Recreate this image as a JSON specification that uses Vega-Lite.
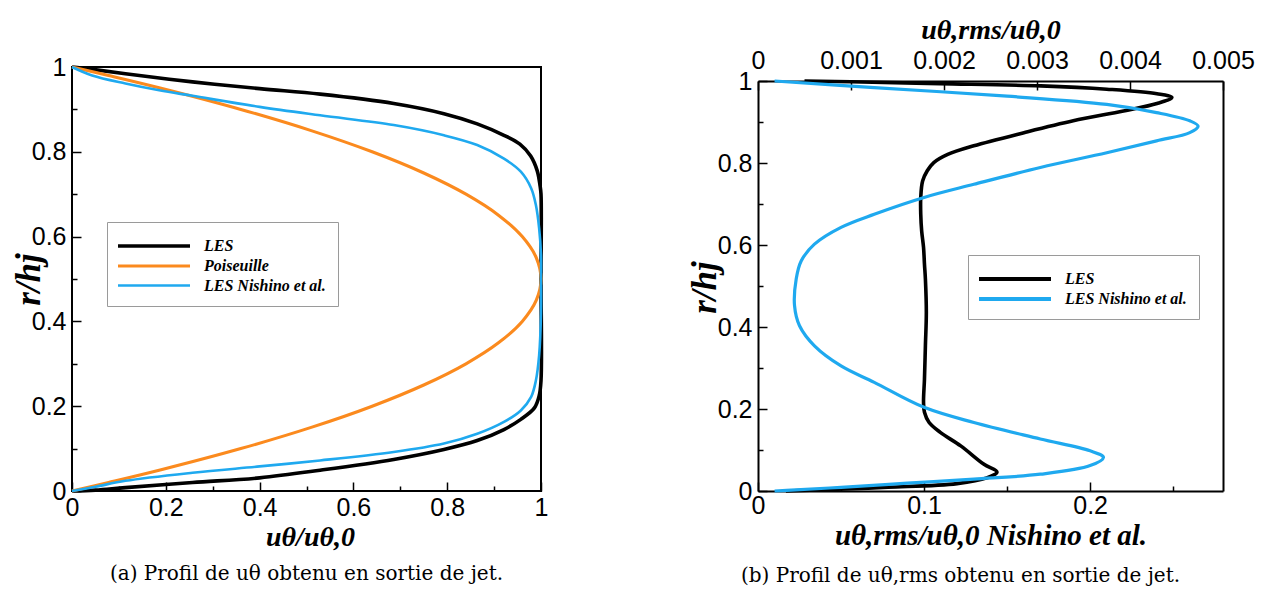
{
  "$schema": "https://vega.github.io/schema/vega-lite/v6.json",
  "background": "white",
  "padding": {"left": 10, "top": 16, "right": 5, "bottom": 2},
  "spacing": 137,
  "config": {
    "view": {"stroke": null},
    "axis": {"labelFont": "Liberation Sans", "labelFontSize": 25, "labelColor": "black", "tickColor": "black", "domainColor": "black", "grid": false, "labelFlush": false, "labelOverlap": false, "titleFont": "Liberation Serif", "titleFontStyle": "italic", "titleFontWeight": "bold", "titleColor": "black", "titleFontSize": 28, "tickWidth": 1.5, "domainWidth": 2},
    "legend": {"orient": "none", "title": null, "strokeColor": "#9a9a9a", "padding": 12, "fillColor": "white", "symbolType": "M-3.6,0H3.6", "symbolSize": 400, "symbolStrokeWidth": 4, "symbolOffset": 23, "labelOffset": 38, "labelFont": "Liberation Serif", "labelFontStyle": "italic", "labelFontWeight": "bold", "labelFontSize": 16, "labelColor": "black", "rowPadding": 0},
    "title": {"font": "DejaVu Serif", "fontSize": 20, "fontWeight": "normal", "color": "black"}
  },
  "datasets": {
    "left": [
      {"series": "LES", "u": 0, "r": 0}, {"series": "LES", "u": 0.05, "r": 0.002}, {"series": "LES", "u": 0.114, "r": 0.008}, {"series": "LES", "u": 0.257, "r": 0.02}, {"series": "LES", "u": 0.4, "r": 0.031}, {"series": "LES", "u": 0.529, "r": 0.049}, {"series": "LES", "u": 0.686, "r": 0.0745}, {"series": "LES", "u": 0.793, "r": 0.098}, {"series": "LES", "u": 0.864, "r": 0.119}, {"series": "LES", "u": 0.921, "r": 0.145}, {"series": "LES", "u": 0.957, "r": 0.169}, {"series": "LES", "u": 0.986, "r": 0.196}, {"series": "LES", "u": 0.996, "r": 0.224}, {"series": "LES", "u": 1.0, "r": 0.26}, {"series": "LES", "u": 1.0, "r": 0.5}, {"series": "LES", "u": 1.0, "r": 0.7}, {"series": "LES", "u": 0.998, "r": 0.72}, {"series": "LES", "u": 0.992, "r": 0.755}, {"series": "LES", "u": 0.978, "r": 0.79}, {"series": "LES", "u": 0.955, "r": 0.818}, {"series": "LES", "u": 0.921, "r": 0.839}, {"series": "LES", "u": 0.864, "r": 0.866}, {"series": "LES", "u": 0.793, "r": 0.89}, {"series": "LES", "u": 0.686, "r": 0.914}, {"series": "LES", "u": 0.529, "r": 0.936}, {"series": "LES", "u": 0.4, "r": 0.949}, {"series": "LES", "u": 0.257, "r": 0.965}, {"series": "LES", "u": 0.114, "r": 0.984}, {"series": "LES", "u": 0.04, "r": 0.995}, {"series": "LES", "u": 0, "r": 1},
      {"series": "Poiseuille", "u": 0, "r": 0}, {"series": "Poiseuille", "u": 0.078, "r": 0.02}, {"series": "Poiseuille", "u": 0.19, "r": 0.05}, {"series": "Poiseuille", "u": 0.36, "r": 0.1}, {"series": "Poiseuille", "u": 0.51, "r": 0.15}, {"series": "Poiseuille", "u": 0.64, "r": 0.2}, {"series": "Poiseuille", "u": 0.75, "r": 0.25}, {"series": "Poiseuille", "u": 0.84, "r": 0.3}, {"series": "Poiseuille", "u": 0.91, "r": 0.35}, {"series": "Poiseuille", "u": 0.96, "r": 0.4}, {"series": "Poiseuille", "u": 0.99, "r": 0.45}, {"series": "Poiseuille", "u": 1.0, "r": 0.5}, {"series": "Poiseuille", "u": 0.99, "r": 0.55}, {"series": "Poiseuille", "u": 0.96, "r": 0.6}, {"series": "Poiseuille", "u": 0.91, "r": 0.65}, {"series": "Poiseuille", "u": 0.84, "r": 0.7}, {"series": "Poiseuille", "u": 0.75, "r": 0.75}, {"series": "Poiseuille", "u": 0.64, "r": 0.8}, {"series": "Poiseuille", "u": 0.51, "r": 0.85}, {"series": "Poiseuille", "u": 0.36, "r": 0.9}, {"series": "Poiseuille", "u": 0.19, "r": 0.95}, {"series": "Poiseuille", "u": 0.078, "r": 0.98}, {"series": "Poiseuille", "u": 0, "r": 1},
      {"series": "LES Nishino et al.", "u": 0, "r": 0}, {"series": "LES Nishino et al.", "u": 0.05, "r": 0.01}, {"series": "LES Nishino et al.", "u": 0.114, "r": 0.024}, {"series": "LES Nishino et al.", "u": 0.257, "r": 0.043}, {"series": "LES Nishino et al.", "u": 0.4, "r": 0.058}, {"series": "LES Nishino et al.", "u": 0.529, "r": 0.072}, {"series": "LES Nishino et al.", "u": 0.686, "r": 0.092}, {"series": "LES Nishino et al.", "u": 0.793, "r": 0.112}, {"series": "LES Nishino et al.", "u": 0.864, "r": 0.135}, {"series": "LES Nishino et al.", "u": 0.921, "r": 0.163}, {"series": "LES Nishino et al.", "u": 0.957, "r": 0.19}, {"series": "LES Nishino et al.", "u": 0.979, "r": 0.222}, {"series": "LES Nishino et al.", "u": 0.989, "r": 0.26}, {"series": "LES Nishino et al.", "u": 0.996, "r": 0.32}, {"series": "LES Nishino et al.", "u": 1.0, "r": 0.42}, {"series": "LES Nishino et al.", "u": 1.0, "r": 0.5}, {"series": "LES Nishino et al.", "u": 1.0, "r": 0.557}, {"series": "LES Nishino et al.", "u": 0.996, "r": 0.62}, {"series": "LES Nishino et al.", "u": 0.989, "r": 0.675}, {"series": "LES Nishino et al.", "u": 0.979, "r": 0.714}, {"series": "LES Nishino et al.", "u": 0.957, "r": 0.753}, {"series": "LES Nishino et al.", "u": 0.921, "r": 0.784}, {"series": "LES Nishino et al.", "u": 0.864, "r": 0.816}, {"series": "LES Nishino et al.", "u": 0.793, "r": 0.839}, {"series": "LES Nishino et al.", "u": 0.686, "r": 0.863}, {"series": "LES Nishino et al.", "u": 0.529, "r": 0.886}, {"series": "LES Nishino et al.", "u": 0.4, "r": 0.906}, {"series": "LES Nishino et al.", "u": 0.257, "r": 0.932}, {"series": "LES Nishino et al.", "u": 0.186, "r": 0.945}, {"series": "LES Nishino et al.", "u": 0.114, "r": 0.961}, {"series": "LES Nishino et al.", "u": 0.043, "r": 0.98}, {"series": "LES Nishino et al.", "u": 0, "r": 1}
    ],
    "right": [
      {"series": "LES", "v": 0.0003, "r": 0}, {"series": "LES", "v": 0.0007, "r": 0.003}, {"series": "LES", "v": 0.0014, "r": 0.009}, {"series": "LES", "v": 0.00214, "r": 0.018}, {"series": "LES", "v": 0.00246, "r": 0.032}, {"series": "LES", "v": 0.00257, "r": 0.046}, {"series": "LES", "v": 0.00243, "r": 0.065}, {"series": "LES", "v": 0.00218, "r": 0.11}, {"series": "LES", "v": 0.00196, "r": 0.143}, {"series": "LES", "v": 0.00184, "r": 0.167}, {"series": "LES", "v": 0.00179, "r": 0.192}, {"series": "LES", "v": 0.00178, "r": 0.216}, {"series": "LES", "v": 0.00179, "r": 0.273}, {"series": "LES", "v": 0.0018, "r": 0.354}, {"series": "LES", "v": 0.00181, "r": 0.435}, {"series": "LES", "v": 0.0018, "r": 0.517}, {"series": "LES", "v": 0.00179, "r": 0.553}, {"series": "LES", "v": 0.00178, "r": 0.594}, {"series": "LES", "v": 0.00176, "r": 0.634}, {"series": "LES", "v": 0.00175, "r": 0.675}, {"series": "LES", "v": 0.00175, "r": 0.716}, {"series": "LES", "v": 0.00177, "r": 0.756}, {"series": "LES", "v": 0.00182, "r": 0.781}, {"series": "LES", "v": 0.00189, "r": 0.801}, {"series": "LES", "v": 0.00204, "r": 0.821}, {"series": "LES", "v": 0.00232, "r": 0.842}, {"series": "LES", "v": 0.00286, "r": 0.874}, {"series": "LES", "v": 0.00339, "r": 0.903}, {"series": "LES", "v": 0.00393, "r": 0.927}, {"series": "LES", "v": 0.00429, "r": 0.945}, {"series": "LES", "v": 0.00445, "r": 0.96}, {"series": "LES", "v": 0.00429, "r": 0.969}, {"series": "LES", "v": 0.00375, "r": 0.98}, {"series": "LES", "v": 0.00304, "r": 0.988}, {"series": "LES", "v": 0.00196, "r": 0.9935}, {"series": "LES", "v": 0.001, "r": 0.998}, {"series": "LES", "v": 0.0005, "r": 1},
      {"series": "LES Nishino et al.", "v": 0.01, "r": 0}, {"series": "LES Nishino et al.", "v": 0.02, "r": 0.002}, {"series": "LES Nishino et al.", "v": 0.05, "r": 0.009}, {"series": "LES Nishino et al.", "v": 0.09, "r": 0.019}, {"series": "LES Nishino et al.", "v": 0.13, "r": 0.029}, {"series": "LES Nishino et al.", "v": 0.17, "r": 0.041}, {"series": "LES Nishino et al.", "v": 0.2, "r": 0.062}, {"series": "LES Nishino et al.", "v": 0.208, "r": 0.082}, {"series": "LES Nishino et al.", "v": 0.2, "r": 0.098}, {"series": "LES Nishino et al.", "v": 0.17, "r": 0.127}, {"series": "LES Nishino et al.", "v": 0.13, "r": 0.167}, {"series": "LES Nishino et al.", "v": 0.1, "r": 0.204}, {"series": "LES Nishino et al.", "v": 0.07, "r": 0.265}, {"series": "LES Nishino et al.", "v": 0.05, "r": 0.305}, {"series": "LES Nishino et al.", "v": 0.034, "r": 0.354}, {"series": "LES Nishino et al.", "v": 0.025, "r": 0.403}, {"series": "LES Nishino et al.", "v": 0.022, "r": 0.452}, {"series": "LES Nishino et al.", "v": 0.023, "r": 0.517}, {"series": "LES Nishino et al.", "v": 0.026, "r": 0.561}, {"series": "LES Nishino et al.", "v": 0.034, "r": 0.602}, {"series": "LES Nishino et al.", "v": 0.05, "r": 0.643}, {"series": "LES Nishino et al.", "v": 0.07, "r": 0.675}, {"series": "LES Nishino et al.", "v": 0.1, "r": 0.716}, {"series": "LES Nishino et al.", "v": 0.13, "r": 0.748}, {"series": "LES Nishino et al.", "v": 0.17, "r": 0.789}, {"series": "LES Nishino et al.", "v": 0.21, "r": 0.825}, {"series": "LES Nishino et al.", "v": 0.24, "r": 0.854}, {"series": "LES Nishino et al.", "v": 0.26, "r": 0.874}, {"series": "LES Nishino et al.", "v": 0.265, "r": 0.89}, {"series": "LES Nishino et al.", "v": 0.26, "r": 0.903}, {"series": "LES Nishino et al.", "v": 0.24, "r": 0.923}, {"series": "LES Nishino et al.", "v": 0.21, "r": 0.943}, {"series": "LES Nishino et al.", "v": 0.15, "r": 0.963}, {"series": "LES Nishino et al.", "v": 0.07, "r": 0.984}, {"series": "LES Nishino et al.", "v": 0.01, "r": 1}
    ]
  },
  "resolve": {"scale": {"color": "independent", "strokeWidth": "independent"}, "legend": {"color": "independent"}},
  "hconcat": [
    {
      "width": 469,
      "height": 424,
      "view": {"stroke": "black", "strokeWidth": 2},
      "title": {"text": "(a) Profil de uθ obtenu en sortie de jet.", "orient": "bottom", "offset": 13},
      "data": {"name": "left"},
      "resolve": {"scale": {"x": "independent", "y": "independent"}},
      "layer": [
        {
          "mark": {"type": "line", "interpolate": "catmull-rom"},
          "encoding": {
            "x": {"field": "u", "type": "quantitative", "scale": {"domain": [0, 1], "nice": false, "zero": false}, "axis": {"orient": "bottom", "values": [0, 0.2, 0.4, 0.6, 0.8, 1], "format": "~g", "tickSize": -9, "labelPadding": 13, "domain": false, "title": "uθ/uθ,0", "titleX": 238, "titleY": 46, "titleBaseline": "middle", "titleAlign": "center"}},
            "y": {"field": "r", "type": "quantitative", "scale": {"domain": [0, 1], "nice": false, "zero": false}, "axis": {"orient": "left", "values": [0, 0.2, 0.4, 0.6, 0.8, 1], "format": "~g", "tickSize": -9, "labelPadding": 15, "domain": false, "title": "r/hj", "titleFontSize": 35, "titleX": -44, "titleY": 212, "titleAngle": -90, "titleBaseline": "middle", "titleAlign": "center"}},
            "order": {"field": "r", "type": "quantitative"},
            "color": {"field": "series", "type": "nominal", "scale": {"domain": ["LES", "Poiseuille", "LES Nishino et al."], "range": ["#000000", "#fb8a1e", "#1fa9ef"]}, "legend": {"legendX": 35, "legendY": 155}},
            "strokeWidth": {"field": "series", "type": "nominal", "scale": {"domain": ["LES", "Poiseuille", "LES Nishino et al."], "range": [3.6, 2.6, 3.2]}, "legend": null}
          }
        },
        {
          "mark": {"type": "point", "opacity": 0},
          "encoding": {
            "x": {"field": "u", "type": "quantitative", "scale": {"domain": [0, 1], "nice": false, "zero": false}, "axis": {"orient": "bottom", "values": [0.1, 0.3, 0.5, 0.7, 0.9], "labels": false, "tickSize": -5, "domain": false, "title": null}},
            "y": {"field": "r", "type": "quantitative", "scale": {"domain": [0, 1], "nice": false, "zero": false}, "axis": {"orient": "left", "values": [0.1, 0.3, 0.5, 0.7, 0.9], "labels": false, "tickSize": -5, "domain": false, "title": null}}
          }
        }
      ]
    },
    {
      "width": 465,
      "height": 424,
      "title": {"text": "(b) Profil de uθ,rms obtenu en sortie de jet.", "orient": "bottom", "offset": 16, "dx": -30},
      "data": {"name": "right"},
      "resolve": {"scale": {"x": "independent", "y": "independent"}},
      "layer": [
        {
          "transform": [{"filter": "datum.series == 'LES'"}],
          "mark": {"type": "line", "strokeWidth": 3.6, "interpolate": "catmull-rom"},
          "encoding": {
            "x": {"field": "v", "type": "quantitative", "scale": {"domain": [0, 0.005], "nice": false, "zero": false}, "axis": {"orient": "top", "offset": -14, "values": [0, 0.001, 0.002, 0.003, 0.004, 0.005], "format": "~g", "tickSize": -9, "labelPadding": 17, "domain": true, "title": "uθ,rms/uθ,0", "titleX": 232.5, "titleY": -51, "titleBaseline": "middle", "titleAlign": "center"}},
            "y": {"field": "r", "type": "quantitative", "scale": {"domain": [0, 1], "range": [424, 14], "nice": false, "zero": false}, "axis": {"orient": "left", "values": [0, 0.2, 0.4, 0.6, 0.8, 1], "format": "~g", "tickSize": -9, "labelPadding": 15, "domain": true, "title": "r/hj", "titleFontSize": 35, "titleX": -54, "titleY": 220, "titleAngle": -90, "titleBaseline": "middle", "titleAlign": "center"}},
            "order": {"field": "r", "type": "quantitative"},
            "color": {"field": "series", "type": "nominal", "scale": {"domain": ["LES", "LES Nishino et al."], "range": ["#000000", "#1fa9ef"]}, "legend": {"legendX": 210, "legendY": 188}}
          }
        },
        {
          "transform": [{"filter": "datum.series == 'LES Nishino et al.'"}],
          "mark": {"type": "line", "strokeWidth": 3.2, "interpolate": "catmull-rom"},
          "encoding": {
            "x": {"field": "v", "type": "quantitative", "scale": {"domain": [0, 0.28], "nice": false, "zero": false}, "axis": {"orient": "bottom", "values": [0, 0.1, 0.2], "format": "~g", "tickSize": -9, "labelPadding": 11, "domain": true, "title": "uθ,rms/uθ,0 Nishino et al.", "titleFontSize": 29, "titleX": 232.5, "titleY": 44, "titleBaseline": "middle", "titleAlign": "center"}},
            "y": {"field": "r", "type": "quantitative", "scale": {"domain": [0, 1], "range": [424, 14], "nice": false, "zero": false}, "axis": null},
            "order": {"field": "r", "type": "quantitative"},
            "color": {"field": "series", "type": "nominal", "scale": {"domain": ["LES", "LES Nishino et al."], "range": ["#000000", "#1fa9ef"]}, "legend": {"legendX": 210, "legendY": 188}}
          }
        },
        {
          "mark": {"type": "point", "opacity": 0},
          "encoding": {
            "x": {"field": "v", "type": "quantitative", "scale": {"domain": [0, 0.28], "nice": false, "zero": false}, "axis": {"orient": "bottom", "values": [0.05, 0.15, 0.25], "labels": false, "tickSize": -5, "domain": false, "title": null}},
            "y": {"field": "r", "type": "quantitative", "scale": {"domain": [0, 1], "range": [424, 14], "nice": false, "zero": false}, "axis": {"orient": "left", "values": [0.1, 0.3, 0.5, 0.7, 0.9], "labels": false, "tickSize": -5, "domain": false, "title": null}}
          }
        },
        {
          "mark": {"type": "point", "opacity": 0},
          "encoding": {
            "y": {"field": "r", "type": "quantitative", "scale": {"domain": [0, 1], "range": [424, 14], "nice": false, "zero": false}, "axis": {"orient": "right", "labels": false, "ticks": false, "domain": true, "title": null}}
          }
        }
      ]
    }
  ]
}
